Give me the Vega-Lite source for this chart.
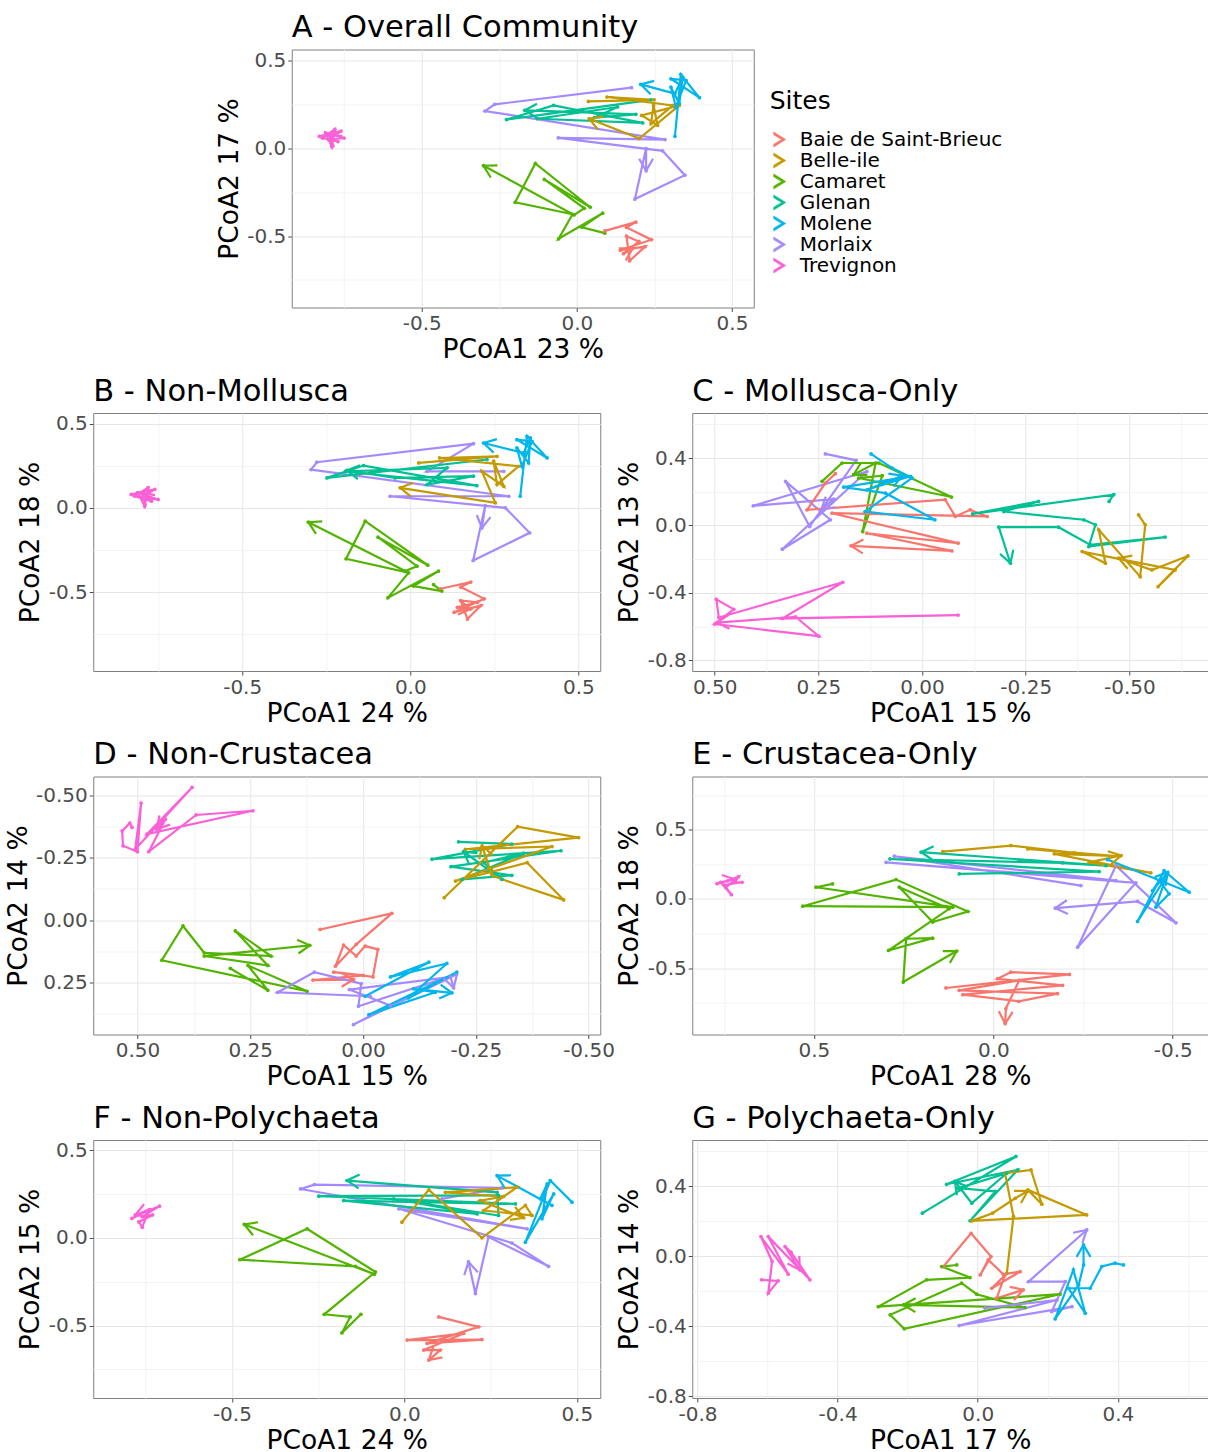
{
"$schema": "https://vega.github.io/schema/vega-lite/v6.json",
"padding": {"left": 4, "top": 12.5, "right": 0, "bottom": 0},
"datasets": {"pts": [
{"p":"A","s":"Trevignon","i":0,"x":-0.83,"y":0.07},{"p":"A","s":"Trevignon","i":1,"x":-0.76,"y":0.10},{"p":"A","s":"Trevignon","i":2,"x":-0.80,"y":0.05},{"p":"A","s":"Trevignon","i":3,"x":-0.75,"y":0.06},{"p":"A","s":"Trevignon","i":4,"x":-0.81,"y":0.09},{"p":"A","s":"Trevignon","i":5,"x":-0.79,"y":0.01},{"p":"A","s":"Trevignon","i":6,"x":-0.78,"y":0.11},{"p":"A","s":"Trevignon","i":7,"x":-0.82,"y":0.06},{"p":"A","s":"Trevignon","i":8,"x":-0.77,"y":0.04},{"p":"A","s":"Trevignon","i":9,"x":-0.80,"y":0.08},
{"p":"A","s":"Camaret","i":0,"x":0.090,"y":-0.483},{"p":"A","s":"Camaret","i":1,"x":0.016,"y":-0.449},{"p":"A","s":"Camaret","i":2,"x":0.083,"y":-0.369},{"p":"A","s":"Camaret","i":3,"x":-0.059,"y":-0.515},{"p":"A","s":"Camaret","i":4,"x":-0.014,"y":-0.375},{"p":"A","s":"Camaret","i":5,"x":-0.199,"y":-0.307},{"p":"A","s":"Camaret","i":6,"x":-0.134,"y":-0.085},{"p":"A","s":"Camaret","i":7,"x":0.043,"y":-0.335},{"p":"A","s":"Camaret","i":8,"x":-0.105,"y":-0.176},{"p":"A","s":"Camaret","i":9,"x":0.024,"y":-0.341},{"p":"A","s":"Camaret","i":10,"x":-0.009,"y":-0.379},{"p":"A","s":"Camaret","i":11,"x":-0.301,"y":-0.098},
{"p":"A","s":"Baie de Saint-Brieuc","i":0,"x":0.09,"y":-0.47},{"p":"A","s":"Baie de Saint-Brieuc","i":1,"x":0.19,"y":-0.42},{"p":"A","s":"Baie de Saint-Brieuc","i":2,"x":0.16,"y":-0.45},{"p":"A","s":"Baie de Saint-Brieuc","i":3,"x":0.24,"y":-0.52},{"p":"A","s":"Baie de Saint-Brieuc","i":4,"x":0.14,"y":-0.58},{"p":"A","s":"Baie de Saint-Brieuc","i":5,"x":0.22,"y":-0.56},{"p":"A","s":"Baie de Saint-Brieuc","i":6,"x":0.17,"y":-0.64},{"p":"A","s":"Baie de Saint-Brieuc","i":7,"x":0.16,"y":-0.50},{"p":"A","s":"Baie de Saint-Brieuc","i":8,"x":0.20,"y":-0.53},{"p":"A","s":"Baie de Saint-Brieuc","i":9,"x":0.15,"y":-0.60},{"p":"A","s":"Baie de Saint-Brieuc","i":10,"x":0.18,"y":-0.57},
{"p":"A","s":"Morlaix","i":0,"x":0.176,"y":0.347},{"p":"A","s":"Morlaix","i":1,"x":-0.265,"y":0.252},{"p":"A","s":"Morlaix","i":2,"x":-0.296,"y":0.214},{"p":"A","s":"Morlaix","i":3,"x":0.284,"y":0.051},{"p":"A","s":"Morlaix","i":4,"x":-0.060,"y":0.061},{"p":"A","s":"Morlaix","i":5,"x":0.276,"y":-0.013},{"p":"A","s":"Morlaix","i":6,"x":0.348,"y":-0.152},{"p":"A","s":"Morlaix","i":7,"x":0.187,"y":-0.288},{"p":"A","s":"Morlaix","i":8,"x":0.223,"y":0.0},{"p":"A","s":"Morlaix","i":9,"x":0.223,"y":-0.127},
{"p":"A","s":"Glenan","i":0,"x":0.239,"y":0.278},{"p":"A","s":"Glenan","i":1,"x":-0.227,"y":0.165},{"p":"A","s":"Glenan","i":2,"x":-0.075,"y":0.246},{"p":"A","s":"Glenan","i":3,"x":0.212,"y":0.146},{"p":"A","s":"Glenan","i":4,"x":-0.127,"y":0.170},{"p":"A","s":"Glenan","i":5,"x":0.131,"y":0.237},{"p":"A","s":"Glenan","i":6,"x":0.056,"y":0.176},{"p":"A","s":"Glenan","i":7,"x":0.190,"y":0.195},{"p":"A","s":"Glenan","i":8,"x":0.002,"y":0.208},{"p":"A","s":"Glenan","i":9,"x":-0.168,"y":0.218},
{"p":"A","s":"Belle-ile","i":0,"x":0.037,"y":0.269},{"p":"A","s":"Belle-ile","i":1,"x":0.249,"y":0.278},{"p":"A","s":"Belle-ile","i":2,"x":0.097,"y":0.294},{"p":"A","s":"Belle-ile","i":3,"x":0.309,"y":0.246},{"p":"A","s":"Belle-ile","i":4,"x":0.239,"y":0.142},{"p":"A","s":"Belle-ile","i":5,"x":0.247,"y":0.246},{"p":"A","s":"Belle-ile","i":6,"x":0.260,"y":0.133},{"p":"A","s":"Belle-ile","i":7,"x":0.209,"y":0.189},{"p":"A","s":"Belle-ile","i":8,"x":0.330,"y":0.246},{"p":"A","s":"Belle-ile","i":9,"x":0.201,"y":0.057},{"p":"A","s":"Belle-ile","i":10,"x":0.040,"y":0.170},
{"p":"A","s":"Molene","i":0,"x":0.316,"y":0.070},{"p":"A","s":"Molene","i":1,"x":0.335,"y":0.422},{"p":"A","s":"Molene","i":2,"x":0.395,"y":0.290},{"p":"A","s":"Molene","i":3,"x":0.303,"y":0.398},{"p":"A","s":"Molene","i":4,"x":0.352,"y":0.388},{"p":"A","s":"Molene","i":5,"x":0.319,"y":0.237},{"p":"A","s":"Molene","i":6,"x":0.303,"y":0.350},{"p":"A","s":"Molene","i":7,"x":0.330,"y":0.256},{"p":"A","s":"Molene","i":8,"x":0.341,"y":0.407},{"p":"A","s":"Molene","i":9,"x":0.316,"y":0.313},{"p":"A","s":"Molene","i":10,"x":0.206,"y":0.366},
{"p":"B","s":"Trevignon","i":0,"x":-0.83,"y":0.08},{"p":"B","s":"Trevignon","i":1,"x":-0.76,"y":0.11},{"p":"B","s":"Trevignon","i":2,"x":-0.80,"y":0.06},{"p":"B","s":"Trevignon","i":3,"x":-0.75,"y":0.05},{"p":"B","s":"Trevignon","i":4,"x":-0.81,"y":0.09},{"p":"B","s":"Trevignon","i":5,"x":-0.79,"y":0.01},{"p":"B","s":"Trevignon","i":6,"x":-0.78,"y":0.12},{"p":"B","s":"Trevignon","i":7,"x":-0.82,"y":0.07},{"p":"B","s":"Trevignon","i":8,"x":-0.77,"y":0.04},{"p":"B","s":"Trevignon","i":9,"x":-0.80,"y":0.09},
{"p":"B","s":"Camaret","i":0,"x":0.069,"y":-0.455},{"p":"B","s":"Camaret","i":1,"x":0.094,"y":-0.494},{"p":"B","s":"Camaret","i":2,"x":0.010,"y":-0.464},{"p":"B","s":"Camaret","i":3,"x":0.084,"y":-0.375},{"p":"B","s":"Camaret","i":4,"x":-0.067,"y":-0.534},{"p":"B","s":"Camaret","i":5,"x":-0.005,"y":-0.385},{"p":"B","s":"Camaret","i":6,"x":-0.191,"y":-0.302},{"p":"B","s":"Camaret","i":7,"x":-0.134,"y":-0.079},{"p":"B","s":"Camaret","i":8,"x":0.052,"y":-0.340},{"p":"B","s":"Camaret","i":9,"x":-0.096,"y":-0.174},{"p":"B","s":"Camaret","i":10,"x":0.020,"y":-0.346},{"p":"B","s":"Camaret","i":11,"x":-0.015,"y":-0.375},{"p":"B","s":"Camaret","i":12,"x":-0.303,"y":-0.085},
{"p":"B","s":"Baie de Saint-Brieuc","i":0,"x":0.09,"y":-0.48},{"p":"B","s":"Baie de Saint-Brieuc","i":1,"x":0.18,"y":-0.44},{"p":"B","s":"Baie de Saint-Brieuc","i":2,"x":0.15,"y":-0.47},{"p":"B","s":"Baie de Saint-Brieuc","i":3,"x":0.22,"y":-0.54},{"p":"B","s":"Baie de Saint-Brieuc","i":4,"x":0.13,"y":-0.62},{"p":"B","s":"Baie de Saint-Brieuc","i":5,"x":0.21,"y":-0.58},{"p":"B","s":"Baie de Saint-Brieuc","i":6,"x":0.17,"y":-0.66},{"p":"B","s":"Baie de Saint-Brieuc","i":7,"x":0.15,"y":-0.55},{"p":"B","s":"Baie de Saint-Brieuc","i":8,"x":0.20,"y":-0.56},{"p":"B","s":"Baie de Saint-Brieuc","i":9,"x":0.14,"y":-0.59},{"p":"B","s":"Baie de Saint-Brieuc","i":10,"x":0.18,"y":-0.60},
{"p":"B","s":"Morlaix","i":0,"x":0.278,"y":0.217},{"p":"B","s":"Morlaix","i":1,"x":0.050,"y":0.217},{"p":"B","s":"Morlaix","i":2,"x":0.188,"y":0.381},{"p":"B","s":"Morlaix","i":3,"x":-0.278,"y":0.271},{"p":"B","s":"Morlaix","i":4,"x":-0.295,"y":0.227},{"p":"B","s":"Morlaix","i":5,"x":0.293,"y":0.069},{"p":"B","s":"Morlaix","i":6,"x":-0.060,"y":0.069},{"p":"B","s":"Morlaix","i":7,"x":0.283,"y":0.0},{"p":"B","s":"Morlaix","i":8,"x":0.355,"y":-0.148},{"p":"B","s":"Morlaix","i":9,"x":0.187,"y":-0.312},{"p":"B","s":"Morlaix","i":10,"x":0.223,"y":0.014},{"p":"B","s":"Morlaix","i":11,"x":0.213,"y":-0.119},
{"p":"B","s":"Glenan","i":0,"x":0.228,"y":0.287},{"p":"B","s":"Glenan","i":1,"x":-0.248,"y":0.178},{"p":"B","s":"Glenan","i":2,"x":-0.139,"y":0.251},{"p":"B","s":"Glenan","i":3,"x":0.198,"y":0.132},{"p":"B","s":"Glenan","i":4,"x":-0.193,"y":0.217},{"p":"B","s":"Glenan","i":5,"x":0.109,"y":0.237},{"p":"B","s":"Glenan","i":6,"x":0.050,"y":0.138},{"p":"B","s":"Glenan","i":7,"x":0.188,"y":0.188},{"p":"B","s":"Glenan","i":8,"x":-0.045,"y":0.178},{"p":"B","s":"Glenan","i":9,"x":-0.188,"y":0.223},
{"p":"B","s":"Belle-ile","i":0,"x":0.025,"y":0.267},{"p":"B","s":"Belle-ile","i":1,"x":0.258,"y":0.306},{"p":"B","s":"Belle-ile","i":2,"x":0.087,"y":0.296},{"p":"B","s":"Belle-ile","i":3,"x":0.322,"y":0.247},{"p":"B","s":"Belle-ile","i":4,"x":0.258,"y":0.138},{"p":"B","s":"Belle-ile","i":5,"x":0.248,"y":0.277},{"p":"B","s":"Belle-ile","i":6,"x":0.278,"y":0.128},{"p":"B","s":"Belle-ile","i":7,"x":0.213,"y":0.217},{"p":"B","s":"Belle-ile","i":8,"x":0.253,"y":0.030},{"p":"B","s":"Belle-ile","i":9,"x":-0.030,"y":0.119},
{"p":"B","s":"Molene","i":0,"x":0.327,"y":0.069},{"p":"B","s":"Molene","i":1,"x":0.347,"y":0.425},{"p":"B","s":"Molene","i":2,"x":0.407,"y":0.296},{"p":"B","s":"Molene","i":3,"x":0.317,"y":0.405},{"p":"B","s":"Molene","i":4,"x":0.362,"y":0.395},{"p":"B","s":"Molene","i":5,"x":0.332,"y":0.247},{"p":"B","s":"Molene","i":6,"x":0.317,"y":0.356},{"p":"B","s":"Molene","i":7,"x":0.352,"y":0.267},{"p":"B","s":"Molene","i":8,"x":0.357,"y":0.415},{"p":"B","s":"Molene","i":9,"x":0.337,"y":0.326},{"p":"B","s":"Molene","i":10,"x":0.218,"y":0.385},
{"p":"C","s":"Trevignon","i":0,"x":-0.087,"y":-0.532},{"p":"C","s":"Trevignon","i":1,"x":0.337,"y":-0.552},{"p":"C","s":"Trevignon","i":2,"x":0.191,"y":-0.337},{"p":"C","s":"Trevignon","i":3,"x":0.490,"y":-0.546},{"p":"C","s":"Trevignon","i":4,"x":0.496,"y":-0.438},{"p":"C","s":"Trevignon","i":5,"x":0.454,"y":-0.498},{"p":"C","s":"Trevignon","i":6,"x":0.500,"y":-0.585},{"p":"C","s":"Trevignon","i":7,"x":0.249,"y":-0.657},{"p":"C","s":"Trevignon","i":8,"x":0.305,"y":-0.542},{"p":"C","s":"Trevignon","i":9,"x":0.494,"y":-0.577},
{"p":"C","s":"Morlaix","i":0,"x":0.233,"y":0.425},{"p":"C","s":"Morlaix","i":1,"x":0.159,"y":0.387},{"p":"C","s":"Morlaix","i":2,"x":0.271,"y":-0.006},{"p":"C","s":"Morlaix","i":3,"x":0.329,"y":0.262},{"p":"C","s":"Morlaix","i":4,"x":0.221,"y":0.034},{"p":"C","s":"Morlaix","i":5,"x":0.337,"y":-0.141},{"p":"C","s":"Morlaix","i":6,"x":0.133,"y":0.321},{"p":"C","s":"Morlaix","i":7,"x":0.407,"y":0.117},{"p":"C","s":"Morlaix","i":8,"x":0.213,"y":0.157},{"p":"C","s":"Morlaix","i":9,"x":0.243,"y":0.093},
{"p":"C","s":"Camaret","i":0,"x":0.241,"y":0.262},{"p":"C","s":"Camaret","i":1,"x":0.193,"y":0.371},{"p":"C","s":"Camaret","i":2,"x":0.104,"y":0.371},{"p":"C","s":"Camaret","i":3,"x":-0.071,"y":0.169},{"p":"C","s":"Camaret","i":4,"x":0.153,"y":0.282},{"p":"C","s":"Camaret","i":5,"x":0.096,"y":0.296},{"p":"C","s":"Camaret","i":6,"x":0.143,"y":-0.036},{"p":"C","s":"Camaret","i":7,"x":0.112,"y":0.371},{"p":"C","s":"Camaret","i":8,"x":0.165,"y":0.302},
{"p":"C","s":"Baie de Saint-Brieuc","i":0,"x":0.209,"y":0.308},{"p":"C","s":"Baie de Saint-Brieuc","i":1,"x":0.233,"y":0.252},{"p":"C","s":"Baie de Saint-Brieuc","i":2,"x":0.277,"y":0.093},{"p":"C","s":"Baie de Saint-Brieuc","i":3,"x":-0.056,"y":0.153},{"p":"C","s":"Baie de Saint-Brieuc","i":4,"x":-0.080,"y":0.054},{"p":"C","s":"Baie de Saint-Brieuc","i":5,"x":-0.116,"y":0.093},{"p":"C","s":"Baie de Saint-Brieuc","i":6,"x":-0.157,"y":0.054},{"p":"C","s":"Baie de Saint-Brieuc","i":7,"x":0.217,"y":0.073},{"p":"C","s":"Baie de Saint-Brieuc","i":8,"x":-0.087,"y":-0.105},{"p":"C","s":"Baie de Saint-Brieuc","i":9,"x":0.133,"y":-0.046},{"p":"C","s":"Baie de Saint-Brieuc","i":10,"x":-0.072,"y":-0.151},{"p":"C","s":"Baie de Saint-Brieuc","i":11,"x":0.171,"y":-0.121},
{"p":"C","s":"Molene","i":0,"x":0.123,"y":0.425},{"p":"C","s":"Molene","i":1,"x":0.072,"y":0.341},{"p":"C","s":"Molene","i":2,"x":0.024,"y":0.282},{"p":"C","s":"Molene","i":3,"x":0.137,"y":0.083},{"p":"C","s":"Molene","i":4,"x":-0.031,"y":0.034},{"p":"C","s":"Molene","i":5,"x":0.088,"y":0.192},{"p":"C","s":"Molene","i":6,"x":0.189,"y":0.228},{"p":"C","s":"Molene","i":7,"x":0.028,"y":0.292},{"p":"C","s":"Molene","i":8,"x":0.133,"y":0.212},{"p":"C","s":"Molene","i":9,"x":0.048,"y":0.296},
{"p":"C","s":"Glenan","i":0,"x":-0.451,"y":0.143},{"p":"C","s":"Glenan","i":1,"x":-0.462,"y":0.183},{"p":"C","s":"Glenan","i":2,"x":-0.122,"y":0.069},{"p":"C","s":"Glenan","i":3,"x":-0.281,"y":0.143},{"p":"C","s":"Glenan","i":4,"x":-0.197,"y":0.083},{"p":"C","s":"Glenan","i":5,"x":-0.390,"y":0.034},{"p":"C","s":"Glenan","i":6,"x":-0.418,"y":0.004},{"p":"C","s":"Glenan","i":7,"x":-0.402,"y":-0.125},{"p":"C","s":"Glenan","i":8,"x":-0.586,"y":-0.069},{"p":"C","s":"Glenan","i":9,"x":-0.406,"y":-0.115},{"p":"C","s":"Glenan","i":10,"x":-0.329,"y":-0.010},{"p":"C","s":"Glenan","i":11,"x":-0.185,"y":-0.010},{"p":"C","s":"Glenan","i":12,"x":-0.213,"y":-0.224},
{"p":"C","s":"Belle-ile","i":0,"x":-0.522,"y":0.063},{"p":"C","s":"Belle-ile","i":1,"x":-0.538,"y":0.004},{"p":"C","s":"Belle-ile","i":2,"x":-0.526,"y":-0.304},{"p":"C","s":"Belle-ile","i":3,"x":-0.426,"y":-0.026},{"p":"C","s":"Belle-ile","i":4,"x":-0.442,"y":-0.224},{"p":"C","s":"Belle-ile","i":5,"x":-0.386,"y":-0.155},{"p":"C","s":"Belle-ile","i":6,"x":-0.610,"y":-0.264},{"p":"C","s":"Belle-ile","i":7,"x":-0.569,"y":-0.363},{"p":"C","s":"Belle-ile","i":8,"x":-0.641,"y":-0.181},{"p":"C","s":"Belle-ile","i":9,"x":-0.554,"y":-0.264},{"p":"C","s":"Belle-ile","i":10,"x":-0.474,"y":-0.194},
{"p":"D","s":"Trevignon","i":0,"x":0.512,"y":-0.373},{"p":"D","s":"Trevignon","i":1,"x":0.517,"y":-0.390},{"p":"D","s":"Trevignon","i":2,"x":0.534,"y":-0.359},{"p":"D","s":"Trevignon","i":3,"x":0.532,"y":-0.299},{"p":"D","s":"Trevignon","i":4,"x":0.500,"y":-0.275},{"p":"D","s":"Trevignon","i":5,"x":0.492,"y":-0.471},{"p":"D","s":"Trevignon","i":6,"x":0.505,"y":-0.285},{"p":"D","s":"Trevignon","i":7,"x":0.379,"y":-0.534},{"p":"D","s":"Trevignon","i":8,"x":0.479,"y":-0.346},{"p":"D","s":"Trevignon","i":9,"x":0.244,"y":-0.440},{"p":"D","s":"Trevignon","i":10,"x":0.370,"y":-0.423},{"p":"D","s":"Trevignon","i":11,"x":0.475,"y":-0.275},{"p":"D","s":"Trevignon","i":12,"x":0.438,"y":-0.406},{"p":"D","s":"Trevignon","i":13,"x":0.457,"y":-0.366},
{"p":"D","s":"Camaret","i":0,"x":0.294,"y":0.195},{"p":"D","s":"Camaret","i":1,"x":0.211,"y":0.283},{"p":"D","s":"Camaret","i":2,"x":0.255,"y":0.183},{"p":"D","s":"Camaret","i":3,"x":0.124,"y":0.287},{"p":"D","s":"Camaret","i":4,"x":0.446,"y":0.162},{"p":"D","s":"Camaret","i":5,"x":0.399,"y":0.024},{"p":"D","s":"Camaret","i":6,"x":0.352,"y":0.132},{"p":"D","s":"Camaret","i":7,"x":0.204,"y":0.145},{"p":"D","s":"Camaret","i":8,"x":0.283,"y":0.044},{"p":"D","s":"Camaret","i":9,"x":0.211,"y":0.183},{"p":"D","s":"Camaret","i":10,"x":0.352,"y":0.145},{"p":"D","s":"Camaret","i":11,"x":0.118,"y":0.102},
{"p":"D","s":"Baie de Saint-Brieuc","i":0,"x":0.095,"y":0.038},{"p":"D","s":"Baie de Saint-Brieuc","i":1,"x":-0.064,"y":-0.027},{"p":"D","s":"Baie de Saint-Brieuc","i":2,"x":0.015,"y":0.098},{"p":"D","s":"Baie de Saint-Brieuc","i":3,"x":0.061,"y":0.186},{"p":"D","s":"Baie de Saint-Brieuc","i":4,"x":0.043,"y":0.101},{"p":"D","s":"Baie de Saint-Brieuc","i":5,"x":0.015,"y":0.145},{"p":"D","s":"Baie de Saint-Brieuc","i":6,"x":-0.005,"y":0.105},{"p":"D","s":"Baie de Saint-Brieuc","i":7,"x":-0.033,"y":0.118},{"p":"D","s":"Baie de Saint-Brieuc","i":8,"x":-0.022,"y":0.229},{"p":"D","s":"Baie de Saint-Brieuc","i":9,"x":0.065,"y":0.210},{"p":"D","s":"Baie de Saint-Brieuc","i":10,"x":-0.001,"y":0.223},{"p":"D","s":"Baie de Saint-Brieuc","i":11,"x":0.111,"y":0.242},{"p":"D","s":"Baie de Saint-Brieuc","i":12,"x":0.021,"y":0.240},
{"p":"D","s":"Morlaix","i":0,"x":-0.016,"y":0.307},{"p":"D","s":"Morlaix","i":1,"x":0.189,"y":0.291},{"p":"D","s":"Morlaix","i":2,"x":0.108,"y":0.210},{"p":"D","s":"Morlaix","i":3,"x":0.004,"y":0.256},{"p":"D","s":"Morlaix","i":4,"x":0.010,"y":0.347},{"p":"D","s":"Morlaix","i":5,"x":-0.207,"y":0.219},{"p":"D","s":"Morlaix","i":6,"x":0.021,"y":0.421},{"p":"D","s":"Morlaix","i":7,"x":-0.061,"y":0.345},{"p":"D","s":"Morlaix","i":8,"x":0.030,"y":0.280},{"p":"D","s":"Morlaix","i":9,"x":-0.194,"y":0.229},{"p":"D","s":"Morlaix","i":10,"x":-0.201,"y":0.273},
{"p":"D","s":"Molene","i":0,"x":-0.005,"y":0.307},{"p":"D","s":"Molene","i":1,"x":-0.146,"y":0.170},{"p":"D","s":"Molene","i":2,"x":-0.061,"y":0.229},{"p":"D","s":"Molene","i":3,"x":-0.186,"y":0.175},{"p":"D","s":"Molene","i":4,"x":-0.101,"y":0.314},{"p":"D","s":"Molene","i":5,"x":-0.208,"y":0.210},{"p":"D","s":"Molene","i":6,"x":-0.013,"y":0.381},{"p":"D","s":"Molene","i":7,"x":-0.160,"y":0.291},{"p":"D","s":"Molene","i":8,"x":-0.112,"y":0.277},{"p":"D","s":"Molene","i":9,"x":-0.197,"y":0.293},
{"p":"D","s":"Glenan","i":0,"x":-0.212,"y":-0.315},{"p":"D","s":"Glenan","i":1,"x":-0.330,"y":-0.306},{"p":"D","s":"Glenan","i":2,"x":-0.153,"y":-0.245},{"p":"D","s":"Glenan","i":3,"x":-0.439,"y":-0.279},{"p":"D","s":"Glenan","i":4,"x":-0.195,"y":-0.215},{"p":"D","s":"Glenan","i":5,"x":-0.330,"y":-0.180},{"p":"D","s":"Glenan","i":6,"x":-0.220,"y":-0.164},{"p":"D","s":"Glenan","i":7,"x":-0.356,"y":-0.269},{"p":"D","s":"Glenan","i":8,"x":-0.268,"y":-0.231},{"p":"D","s":"Glenan","i":9,"x":-0.308,"y":-0.164},{"p":"D","s":"Glenan","i":10,"x":-0.223,"y":-0.275},
{"p":"D","s":"Belle-ile","i":0,"x":-0.180,"y":-0.090},{"p":"D","s":"Belle-ile","i":1,"x":-0.343,"y":-0.376},{"p":"D","s":"Belle-ile","i":2,"x":-0.478,"y":-0.332},{"p":"D","s":"Belle-ile","i":3,"x":-0.227,"y":-0.285},{"p":"D","s":"Belle-ile","i":4,"x":-0.419,"y":-0.296},{"p":"D","s":"Belle-ile","i":5,"x":-0.205,"y":-0.157},{"p":"D","s":"Belle-ile","i":6,"x":-0.364,"y":-0.231},{"p":"D","s":"Belle-ile","i":7,"x":-0.445,"y":-0.081},{"p":"D","s":"Belle-ile","i":8,"x":-0.308,"y":-0.164},{"p":"D","s":"Belle-ile","i":9,"x":-0.286,"y":-0.180},{"p":"D","s":"Belle-ile","i":10,"x":-0.264,"y":-0.299},
{"p":"E","s":"Trevignon","i":0,"x":0.77,"y":0.11},{"p":"E","s":"Trevignon","i":1,"x":0.74,"y":0.13},{"p":"E","s":"Trevignon","i":2,"x":0.71,"y":0.16},{"p":"E","s":"Trevignon","i":3,"x":0.72,"y":0.12},{"p":"E","s":"Trevignon","i":4,"x":0.70,"y":0.12},{"p":"E","s":"Trevignon","i":5,"x":0.75,"y":0.10},{"p":"E","s":"Trevignon","i":6,"x":0.73,"y":0.03},{"p":"E","s":"Trevignon","i":7,"x":0.76,"y":0.12},{"p":"E","s":"Trevignon","i":8,"x":0.72,"y":0.14},
{"p":"E","s":"Camaret","i":0,"x":0.448,"y":0.108},{"p":"E","s":"Camaret","i":1,"x":0.494,"y":0.084},{"p":"E","s":"Camaret","i":2,"x":0.113,"y":-0.060},{"p":"E","s":"Camaret","i":3,"x":0.531,"y":-0.053},{"p":"E","s":"Camaret","i":4,"x":0.271,"y":0.139},{"p":"E","s":"Camaret","i":5,"x":0.071,"y":-0.091},{"p":"E","s":"Camaret","i":6,"x":0.169,"y":-0.168},{"p":"E","s":"Camaret","i":7,"x":0.262,"y":0.084},{"p":"E","s":"Camaret","i":8,"x":0.123,"y":-0.072},{"p":"E","s":"Camaret","i":9,"x":0.292,"y":-0.373},{"p":"E","s":"Camaret","i":10,"x":0.169,"y":-0.284},{"p":"E","s":"Camaret","i":11,"x":0.243,"y":-0.288},{"p":"E","s":"Camaret","i":12,"x":0.251,"y":-0.601},{"p":"E","s":"Camaret","i":13,"x":0.102,"y":-0.377},
{"p":"E","s":"Baie de Saint-Brieuc","i":0,"x":0.132,"y":-0.644},{"p":"E","s":"Baie de Saint-Brieuc","i":1,"x":-0.212,"y":-0.546},{"p":"E","s":"Baie de Saint-Brieuc","i":2,"x":-0.049,"y":-0.529},{"p":"E","s":"Baie de Saint-Brieuc","i":3,"x":-0.012,"y":-0.577},{"p":"E","s":"Baie de Saint-Brieuc","i":4,"x":-0.193,"y":-0.625},{"p":"E","s":"Baie de Saint-Brieuc","i":5,"x":0.085,"y":-0.692},{"p":"E","s":"Baie de Saint-Brieuc","i":6,"x":-0.071,"y":-0.740},{"p":"E","s":"Baie de Saint-Brieuc","i":7,"x":-0.179,"y":-0.685},{"p":"E","s":"Baie de Saint-Brieuc","i":8,"x":0.095,"y":-0.661},{"p":"E","s":"Baie de Saint-Brieuc","i":9,"x":-0.072,"y":-0.589},{"p":"E","s":"Baie de Saint-Brieuc","i":10,"x":-0.035,"y":-0.793},{"p":"E","s":"Baie de Saint-Brieuc","i":11,"x":-0.033,"y":-0.901},
{"p":"E","s":"Morlaix","i":0,"x":-0.244,"y":0.096},{"p":"E","s":"Morlaix","i":1,"x":0.276,"y":0.308},{"p":"E","s":"Morlaix","i":2,"x":-0.342,"y":0.132},{"p":"E","s":"Morlaix","i":3,"x":0.299,"y":0.264},{"p":"E","s":"Morlaix","i":4,"x":-0.397,"y":0.115},{"p":"E","s":"Morlaix","i":5,"x":-0.235,"y":-0.349},{"p":"E","s":"Morlaix","i":6,"x":-0.342,"y":0.240},{"p":"E","s":"Morlaix","i":7,"x":-0.509,"y":-0.173},{"p":"E","s":"Morlaix","i":8,"x":-0.402,"y":-0.019},{"p":"E","s":"Morlaix","i":9,"x":-0.173,"y":-0.067},
{"p":"E","s":"Glenan","i":0,"x":0.095,"y":0.180},{"p":"E","s":"Glenan","i":1,"x":-0.295,"y":0.197},{"p":"E","s":"Glenan","i":2,"x":0.288,"y":0.288},{"p":"E","s":"Glenan","i":3,"x":-0.193,"y":0.260},{"p":"E","s":"Glenan","i":4,"x":-0.072,"y":0.276},{"p":"E","s":"Glenan","i":5,"x":-0.314,"y":0.240},{"p":"E","s":"Glenan","i":6,"x":0.201,"y":0.337},
{"p":"E","s":"Belle-ile","i":0,"x":0.141,"y":0.341},{"p":"E","s":"Belle-ile","i":1,"x":-0.049,"y":0.385},{"p":"E","s":"Belle-ile","i":2,"x":-0.226,"y":0.332},{"p":"E","s":"Belle-ile","i":3,"x":-0.096,"y":0.361},{"p":"E","s":"Belle-ile","i":4,"x":-0.351,"y":0.308},{"p":"E","s":"Belle-ile","i":5,"x":-0.170,"y":0.325},{"p":"E","s":"Belle-ile","i":6,"x":-0.439,"y":0.188},{"p":"E","s":"Belle-ile","i":7,"x":-0.267,"y":0.264},{"p":"E","s":"Belle-ile","i":8,"x":-0.356,"y":0.313},
{"p":"E","s":"Molene","i":0,"x":-0.318,"y":0.284},{"p":"E","s":"Molene","i":1,"x":-0.546,"y":0.048},{"p":"E","s":"Molene","i":2,"x":-0.476,"y":0.204},{"p":"E","s":"Molene","i":3,"x":-0.402,"y":-0.163},{"p":"E","s":"Molene","i":4,"x":-0.481,"y":0.156},{"p":"E","s":"Molene","i":5,"x":-0.453,"y":-0.060},{"p":"E","s":"Molene","i":6,"x":-0.490,"y":0.036},{"p":"E","s":"Molene","i":7,"x":-0.462,"y":0.132},{"p":"E","s":"Molene","i":8,"x":-0.444,"y":0.060},{"p":"E","s":"Molene","i":9,"x":-0.486,"y":0.192},
{"p":"F","s":"Trevignon","i":0,"x":-0.79,"y":0.11},{"p":"F","s":"Trevignon","i":1,"x":-0.75,"y":0.15},{"p":"F","s":"Trevignon","i":2,"x":-0.71,"y":0.18},{"p":"F","s":"Trevignon","i":3,"x":-0.76,"y":0.12},{"p":"F","s":"Trevignon","i":4,"x":-0.73,"y":0.13},{"p":"F","s":"Trevignon","i":5,"x":-0.77,"y":0.09},{"p":"F","s":"Trevignon","i":6,"x":-0.76,"y":0.06},{"p":"F","s":"Trevignon","i":7,"x":-0.74,"y":0.16},{"p":"F","s":"Trevignon","i":8,"x":-0.78,"y":0.13},
{"p":"F","s":"Camaret","i":0,"x":-0.126,"y":-0.436},{"p":"F","s":"Camaret","i":1,"x":-0.181,"y":-0.542},{"p":"F","s":"Camaret","i":2,"x":-0.157,"y":-0.451},{"p":"F","s":"Camaret","i":3,"x":-0.232,"y":-0.436},{"p":"F","s":"Camaret","i":4,"x":-0.084,"y":-0.195},{"p":"F","s":"Camaret","i":5,"x":-0.282,"y":0.051},{"p":"F","s":"Camaret","i":6,"x":-0.477,"y":-0.125},{"p":"F","s":"Camaret","i":7,"x":-0.142,"y":-0.163},{"p":"F","s":"Camaret","i":8,"x":-0.087,"y":-0.208},{"p":"F","s":"Camaret","i":9,"x":-0.464,"y":0.076},
{"p":"F","s":"Baie de Saint-Brieuc","i":0,"x":0.100,"y":-0.451},{"p":"F","s":"Baie de Saint-Brieuc","i":1,"x":0.215,"y":-0.508},{"p":"F","s":"Baie de Saint-Brieuc","i":2,"x":0.066,"y":-0.602},{"p":"F","s":"Baie de Saint-Brieuc","i":3,"x":0.225,"y":-0.580},{"p":"F","s":"Baie de Saint-Brieuc","i":4,"x":0.008,"y":-0.583},{"p":"F","s":"Baie de Saint-Brieuc","i":5,"x":0.172,"y":-0.545},{"p":"F","s":"Baie de Saint-Brieuc","i":6,"x":0.056,"y":-0.640},{"p":"F","s":"Baie de Saint-Brieuc","i":7,"x":0.104,"y":-0.640},{"p":"F","s":"Baie de Saint-Brieuc","i":8,"x":0.071,"y":-0.697},
{"p":"F","s":"Morlaix","i":0,"x":0.109,"y":0.222},{"p":"F","s":"Morlaix","i":1,"x":0.283,"y":0.284},{"p":"F","s":"Morlaix","i":2,"x":-0.261,"y":0.303},{"p":"F","s":"Morlaix","i":3,"x":-0.301,"y":0.278},{"p":"F","s":"Morlaix","i":4,"x":0.356,"y":0.051},{"p":"F","s":"Morlaix","i":5,"x":-0.016,"y":0.165},{"p":"F","s":"Morlaix","i":6,"x":0.312,"y":-0.030},{"p":"F","s":"Morlaix","i":7,"x":0.418,"y":-0.163},{"p":"F","s":"Morlaix","i":8,"x":0.244,"y":0.004},{"p":"F","s":"Morlaix","i":9,"x":0.206,"y":-0.318},{"p":"F","s":"Morlaix","i":10,"x":0.186,"y":-0.138},
{"p":"F","s":"Glenan","i":0,"x":0.273,"y":0.241},{"p":"F","s":"Glenan","i":1,"x":-0.248,"y":0.237},{"p":"F","s":"Glenan","i":2,"x":0.322,"y":0.193},{"p":"F","s":"Glenan","i":3,"x":-0.176,"y":0.212},{"p":"F","s":"Glenan","i":4,"x":0.211,"y":0.136},{"p":"F","s":"Glenan","i":5,"x":-0.031,"y":0.222},{"p":"F","s":"Glenan","i":6,"x":0.273,"y":0.127},{"p":"F","s":"Glenan","i":7,"x":0.269,"y":0.259},{"p":"F","s":"Glenan","i":8,"x":-0.166,"y":0.326},
{"p":"F","s":"Belle-ile","i":0,"x":-0.007,"y":0.089},{"p":"F","s":"Belle-ile","i":1,"x":0.071,"y":0.273},{"p":"F","s":"Belle-ile","i":2,"x":0.225,"y":0.0},{"p":"F","s":"Belle-ile","i":3,"x":0.351,"y":0.184},{"p":"F","s":"Belle-ile","i":4,"x":0.370,"y":0.127},{"p":"F","s":"Belle-ile","i":5,"x":0.230,"y":0.155},{"p":"F","s":"Belle-ile","i":6,"x":0.327,"y":0.288},{"p":"F","s":"Belle-ile","i":7,"x":0.119,"y":0.259},{"p":"F","s":"Belle-ile","i":8,"x":0.288,"y":0.235},{"p":"F","s":"Belle-ile","i":9,"x":0.220,"y":0.212},{"p":"F","s":"Belle-ile","i":10,"x":0.346,"y":0.114},
{"p":"F","s":"Molene","i":0,"x":0.486,"y":0.203},{"p":"F","s":"Molene","i":1,"x":0.423,"y":0.326},{"p":"F","s":"Molene","i":2,"x":0.351,"y":-0.025},{"p":"F","s":"Molene","i":3,"x":0.433,"y":0.250},{"p":"F","s":"Molene","i":4,"x":0.399,"y":0.108},{"p":"F","s":"Molene","i":5,"x":0.414,"y":0.307},{"p":"F","s":"Molene","i":6,"x":0.394,"y":0.222},{"p":"F","s":"Molene","i":7,"x":0.428,"y":0.184},{"p":"F","s":"Molene","i":8,"x":0.269,"y":0.354},
{"p":"G","s":"Trevignon","i":0,"x":-0.617,"y":-0.135},{"p":"G","s":"Trevignon","i":1,"x":-0.570,"y":-0.141},{"p":"G","s":"Trevignon","i":2,"x":-0.598,"y":-0.211},{"p":"G","s":"Trevignon","i":3,"x":-0.587,"y":-0.030},{"p":"G","s":"Trevignon","i":4,"x":-0.619,"y":0.112},{"p":"G","s":"Trevignon","i":5,"x":-0.541,"y":-0.103},{"p":"G","s":"Trevignon","i":6,"x":-0.598,"y":0.112},{"p":"G","s":"Trevignon","i":7,"x":-0.479,"y":-0.135},{"p":"G","s":"Trevignon","i":8,"x":-0.533,"y":0.023},{"p":"G","s":"Trevignon","i":9,"x":-0.550,"y":0.055},{"p":"G","s":"Trevignon","i":10,"x":-0.508,"y":-0.078},
{"p":"G","s":"Glenan","i":0,"x":-0.158,"y":0.246},{"p":"G","s":"Glenan","i":1,"x":0.109,"y":0.570},{"p":"G","s":"Glenan","i":2,"x":-0.089,"y":0.411},{"p":"G","s":"Glenan","i":3,"x":0.114,"y":0.493},{"p":"G","s":"Glenan","i":4,"x":-0.022,"y":0.202},{"p":"G","s":"Glenan","i":5,"x":0.050,"y":0.370},{"p":"G","s":"Glenan","i":6,"x":-0.055,"y":0.389},{"p":"G","s":"Glenan","i":7,"x":0.083,"y":0.474},{"p":"G","s":"Glenan","i":8,"x":-0.017,"y":0.303},{"p":"G","s":"Glenan","i":9,"x":-0.065,"y":0.427},
{"p":"G","s":"Belle-ile","i":0,"x":0.083,"y":-0.097},{"p":"G","s":"Belle-ile","i":1,"x":0.102,"y":0.227},{"p":"G","s":"Belle-ile","i":2,"x":0.078,"y":0.474},{"p":"G","s":"Belle-ile","i":3,"x":0.152,"y":0.493},{"p":"G","s":"Belle-ile","i":4,"x":0.183,"y":0.297},{"p":"G","s":"Belle-ile","i":5,"x":0.143,"y":0.379},{"p":"G","s":"Belle-ile","i":6,"x":0.311,"y":0.236},{"p":"G","s":"Belle-ile","i":7,"x":-0.017,"y":0.202},{"p":"G","s":"Belle-ile","i":8,"x":0.042,"y":0.246},{"p":"G","s":"Belle-ile","i":9,"x":0.107,"y":0.331},{"p":"G","s":"Belle-ile","i":10,"x":0.143,"y":0.373},
{"p":"G","s":"Baie de Saint-Brieuc","i":0,"x":-0.098,"y":-0.059},{"p":"G","s":"Baie de Saint-Brieuc","i":1,"x":-0.019,"y":0.131},{"p":"G","s":"Baie de Saint-Brieuc","i":2,"x":0.038,"y":-0.002},{"p":"G","s":"Baie de Saint-Brieuc","i":3,"x":0.007,"y":-0.107},{"p":"G","s":"Baie de Saint-Brieuc","i":4,"x":0.030,"y":-0.021},{"p":"G","s":"Baie de Saint-Brieuc","i":5,"x":0.073,"y":-0.103},{"p":"G","s":"Baie de Saint-Brieuc","i":6,"x":0.121,"y":-0.088},{"p":"G","s":"Baie de Saint-Brieuc","i":7,"x":0.040,"y":-0.183},{"p":"G","s":"Baie de Saint-Brieuc","i":8,"x":0.078,"y":-0.107},{"p":"G","s":"Baie de Saint-Brieuc","i":9,"x":0.054,"y":-0.240},{"p":"G","s":"Baie de Saint-Brieuc","i":10,"x":0.130,"y":-0.192},
{"p":"G","s":"Camaret","i":0,"x":-0.060,"y":-0.050},{"p":"G","s":"Camaret","i":1,"x":-0.103,"y":-0.059},{"p":"G","s":"Camaret","i":2,"x":-0.022,"y":-0.122},{"p":"G","s":"Camaret","i":3,"x":-0.146,"y":-0.135},{"p":"G","s":"Camaret","i":4,"x":-0.284,"y":-0.288},{"p":"G","s":"Camaret","i":5,"x":0.235,"y":-0.217},{"p":"G","s":"Camaret","i":6,"x":-0.210,"y":-0.415},{"p":"G","s":"Camaret","i":7,"x":-0.250,"y":-0.335},{"p":"G","s":"Camaret","i":8,"x":-0.046,"y":-0.154},{"p":"G","s":"Camaret","i":9,"x":-0.003,"y":-0.217},{"p":"G","s":"Camaret","i":10,"x":0.135,"y":-0.293},{"p":"G","s":"Camaret","i":11,"x":-0.212,"y":-0.278},
{"p":"G","s":"Morlaix","i":0,"x":0.021,"y":-0.297},{"p":"G","s":"Morlaix","i":1,"x":0.226,"y":-0.250},{"p":"G","s":"Morlaix","i":2,"x":-0.053,"y":-0.396},{"p":"G","s":"Morlaix","i":3,"x":0.269,"y":-0.288},{"p":"G","s":"Morlaix","i":4,"x":0.211,"y":-0.316},{"p":"G","s":"Morlaix","i":5,"x":0.250,"y":-0.145},{"p":"G","s":"Morlaix","i":6,"x":0.145,"y":-0.145},{"p":"G","s":"Morlaix","i":7,"x":0.311,"y":0.150},
{"p":"G","s":"Molene","i":0,"x":0.416,"y":-0.050},{"p":"G","s":"Molene","i":1,"x":0.392,"y":-0.040},{"p":"G","s":"Molene","i":2,"x":0.354,"y":-0.059},{"p":"G","s":"Molene","i":3,"x":0.321,"y":-0.183},{"p":"G","s":"Molene","i":4,"x":0.259,"y":-0.183},{"p":"G","s":"Molene","i":5,"x":0.307,"y":-0.326},{"p":"G","s":"Molene","i":6,"x":0.273,"y":-0.078},{"p":"G","s":"Molene","i":7,"x":0.221,"y":-0.358},{"p":"G","s":"Molene","i":8,"x":0.288,"y":-0.164},{"p":"G","s":"Molene","i":9,"x":0.302,"y":-0.050},{"p":"G","s":"Molene","i":10,"x":0.302,"y":0.065}
]},
"data": {"name": "pts"},
"center": true,
"spacing": 12.5,
"resolve": {"legend": {"color": "independent"}},
"vconcat": [
{
 "width": 462, "height": 258,
 "title": "A - Overall Community",
 "transform": [{"filter": "datum.p === 'A'"}],
 "encoding": {
  "x": {"field": "x", "type": "quantitative", "scale": {"domain": [-0.919, 0.570], "nice": false, "zero": false},
   "axis": {"title": "PCoA1 23 %", "values": [-0.75,-0.5,-0.25,0,0.25,0.5],
    "labelExpr": "indexof([-0.5,0,0.5], datum.value) >= 0 ? replace(format(datum.value, '.1f'), '\u2212', '-') : ''",
    "gridColor": {"condition": {"test": "indexof([-0.5,0,0.5], datum.value) >= 0", "value": "#e6e6e6"}, "value": "#f3f3f3"},
    "tickOpacity": {"condition": {"test": "indexof([-0.5,0,0.5], datum.value) >= 0", "value": 1}, "value": 0}}},
  "y": {"field": "y", "type": "quantitative", "scale": {"domain": [-0.907, 0.565], "nice": false, "zero": false},
   "axis": {"title": "PCoA2 17 %", "values": [-0.75,-0.5,-0.25,0,0.25,0.5],
    "labelExpr": "indexof([-0.5,0,0.5], datum.value) >= 0 ? replace(format(datum.value, '.1f'), '\u2212', '-') : ''",
    "gridColor": {"condition": {"test": "indexof([-0.5,0,0.5], datum.value) >= 0", "value": "#e6e6e6"}, "value": "#f3f3f3"},
    "tickOpacity": {"condition": {"test": "indexof([-0.5,0,0.5], datum.value) >= 0", "value": 1}, "value": 0}}},
  "color": {"field": "s", "type": "nominal",
   "scale": {"domain": ["Baie de Saint-Brieuc","Belle-ile","Camaret","Glenan","Molene","Morlaix","Trevignon"], "range": ["#F8766D","#C49A00","#53B400","#00C094","#00B6EB","#A58AFF","#FB61D7"]},
   "legend": {"title": "Sites", "orient": "none", "legendX": 471, "legendY": 32, "padding": 7, "symbolType": "M-0.8,-1L0.8,0L-0.8,1L-0.8,0.62L0.25,0L-0.8,-0.62Z", "symbolSize": 225, "symbolStrokeWidth": 0.6, "labelLimit": 400}}
 },
 "layer": [
  {"mark": {"type": "line", "strokeWidth": 2.2}, "encoding": {"order": {"field": "i", "type": "quantitative"}}},
  {"mark": {"type": "circle", "size": 14, "opacity": 1}, "encoding": {"color": {"field": "s", "type": "nominal", "legend": null}}},
  {"transform": [
    {"window": [{"op": "lag", "field": "x", "as": "px"}, {"op": "lag", "field": "y", "as": "py"}], "sort": [{"field": "i", "order": "ascending"}], "groupby": ["s"]},
    {"joinaggregate": [{"op": "max", "field": "i", "as": "mi"}], "groupby": ["s"]},
    {"filter": "datum.i === datum.mi"},
    {"calculate": "atan2(-(datum.y - datum.py) * 175, (datum.x - datum.px) * 310) * 180 / PI", "as": "ang"}],
   "mark": {"type": "point", "shape": "M-1,-0.58L0,0L-1,0.58", "filled": false, "strokeWidth": 2.2, "size": 576, "opacity": 1},
   "encoding": {"angle": {"field": "ang", "type": "quantitative", "scale": null}, "color": {"field": "s", "type": "nominal", "legend": null}}}
 ]
},
{
 "columns": 2,
 "align": "each",
 "spacing": {"row": 12.5, "column": 0},
 "resolve": {"legend": {"color": "independent"}},
 "concat": [
 {
  "width": 507, "height": 258,
  "title": "B - Non-Mollusca",
  "transform": [{"filter": "datum.p === 'B'"}],
  "encoding": {
   "x": {"field": "x", "type": "quantitative", "scale": {"domain": [-0.943, 0.565], "nice": false, "zero": false},
    "axis": {"title": "PCoA1 24 %", "values": [-0.75,-0.5,-0.25,0,0.25,0.5],
     "labelExpr": "indexof([-0.5,0,0.5], datum.value) >= 0 ? replace(format(datum.value, '.1f'), '\u2212', '-') : ''",
     "gridColor": {"condition": {"test": "indexof([-0.5,0,0.5], datum.value) >= 0", "value": "#e6e6e6"}, "value": "#f3f3f3"},
     "tickOpacity": {"condition": {"test": "indexof([-0.5,0,0.5], datum.value) >= 0", "value": 1}, "value": 0}}},
   "y": {"field": "y", "type": "quantitative", "scale": {"domain": [-0.968, 0.563], "nice": false, "zero": false},
    "axis": {"title": "PCoA2 18 %", "values": [-0.75,-0.5,-0.25,0,0.25,0.5],
     "labelExpr": "indexof([-0.5,0,0.5], datum.value) >= 0 ? replace(format(datum.value, '.1f'), '\u2212', '-') : ''",
     "gridColor": {"condition": {"test": "indexof([-0.5,0,0.5], datum.value) >= 0", "value": "#e6e6e6"}, "value": "#f3f3f3"},
     "tickOpacity": {"condition": {"test": "indexof([-0.5,0,0.5], datum.value) >= 0", "value": 1}, "value": 0}}},
   "color": {"field": "s", "type": "nominal", "scale": {"domain": ["Baie de Saint-Brieuc","Belle-ile","Camaret","Glenan","Molene","Morlaix","Trevignon"], "range": ["#F8766D","#C49A00","#53B400","#00C094","#00B6EB","#A58AFF","#FB61D7"]}, "legend": null}
  },
  "layer": [
   {"mark": {"type": "line", "strokeWidth": 2.2, "point": {"filled": true, "size": 14}}, "encoding": {"order": {"field": "i", "type": "quantitative"}}},
   {"transform": [
     {"window": [{"op": "lag", "field": "x", "as": "px"}, {"op": "lag", "field": "y", "as": "py"}], "sort": [{"field": "i", "order": "ascending"}], "groupby": ["s"]},
     {"joinaggregate": [{"op": "max", "field": "i", "as": "mi"}], "groupby": ["s"]},
     {"filter": "datum.i === datum.mi"},
     {"calculate": "atan2(-(datum.y - datum.py) * 168.5, (datum.x - datum.px) * 336) * 180 / PI", "as": "ang"}],
    "mark": {"type": "point", "shape": "M-1,-0.58L0,0L-1,0.58", "filled": false, "strokeWidth": 2.2, "size": 576, "opacity": 1},
    "encoding": {"angle": {"field": "ang", "type": "quantitative", "scale": null}}}
  ]
 },
 {
  "width": 516, "height": 258,
  "title": "C - Mollusca-Only",
  "transform": [{"filter": "datum.p === 'C'"}],
  "encoding": {
   "x": {"field": "x", "type": "quantitative", "scale": {"domain": [-0.690, 0.554], "reverse": true, "nice": false, "zero": false},
    "axis": {"title": "PCoA1 15 %", "values": [-0.625,-0.5,-0.375,-0.25,-0.125,0,0.125,0.25,0.375,0.5],
     "labelExpr": "indexof([-0.5,-0.25,0,0.25,0.5], datum.value) >= 0 ? replace(format(datum.value, '.2f'), '\u2212', '-') : ''",
     "gridColor": {"condition": {"test": "indexof([-0.5,-0.25,0,0.25,0.5], datum.value) >= 0", "value": "#e6e6e6"}, "value": "#f3f3f3"},
     "tickOpacity": {"condition": {"test": "indexof([-0.5,-0.25,0,0.25,0.5], datum.value) >= 0", "value": 1}, "value": 0}}},
   "y": {"field": "y", "type": "quantitative", "scale": {"domain": [-0.864, 0.668], "nice": false, "zero": false},
    "axis": {"title": "PCoA2 13 %", "values": [-0.8,-0.6,-0.4,-0.2,0,0.2,0.4,0.6],
     "labelExpr": "indexof([-0.8,-0.4,0,0.4], datum.value) >= 0 ? replace(format(datum.value, '.1f'), '\u2212', '-') : ''",
     "gridColor": {"condition": {"test": "indexof([-0.8,-0.4,0,0.4], datum.value) >= 0", "value": "#e6e6e6"}, "value": "#f3f3f3"},
     "tickOpacity": {"condition": {"test": "indexof([-0.8,-0.4,0,0.4], datum.value) >= 0", "value": 1}, "value": 0}}},
   "color": {"field": "s", "type": "nominal", "scale": {"domain": ["Baie de Saint-Brieuc","Belle-ile","Camaret","Glenan","Molene","Morlaix","Trevignon"], "range": ["#F8766D","#C49A00","#53B400","#00C094","#00B6EB","#A58AFF","#FB61D7"]}, "legend": null}
  },
  "layer": [
   {"mark": {"type": "line", "strokeWidth": 2.2, "point": {"filled": true, "size": 14}}, "encoding": {"order": {"field": "i", "type": "quantitative"}}},
   {"transform": [
     {"window": [{"op": "lag", "field": "x", "as": "px"}, {"op": "lag", "field": "y", "as": "py"}], "sort": [{"field": "i", "order": "ascending"}], "groupby": ["s"]},
     {"joinaggregate": [{"op": "max", "field": "i", "as": "mi"}], "groupby": ["s"]},
     {"filter": "datum.i === datum.mi"},
     {"calculate": "atan2(-(datum.y - datum.py) * 168.4, (datum.x - datum.px) * -414.8) * 180 / PI", "as": "ang"}],
    "mark": {"type": "point", "shape": "M-1,-0.58L0,0L-1,0.58", "filled": false, "strokeWidth": 2.2, "size": 576, "opacity": 1},
    "encoding": {"angle": {"field": "ang", "type": "quantitative", "scale": null}}}
  ]
 },
 {
  "width": 507, "height": 258,
  "title": "D - Non-Crustacea",
  "transform": [{"filter": "datum.p === 'D'"}],
  "encoding": {
   "x": {"field": "x", "type": "quantitative", "scale": {"domain": [-0.526, 0.598], "reverse": true, "nice": false, "zero": false},
    "axis": {"title": "PCoA1 15 %", "values": [-0.5,-0.375,-0.25,-0.125,0,0.125,0.25,0.375,0.5],
     "labelExpr": "indexof([-0.5,-0.25,0,0.25,0.5], datum.value) >= 0 ? replace(format(datum.value, '.2f'), '\u2212', '-') : ''",
     "gridColor": {"condition": {"test": "indexof([-0.5,-0.25,0,0.25,0.5], datum.value) >= 0", "value": "#e6e6e6"}, "value": "#f3f3f3"},
     "tickOpacity": {"condition": {"test": "indexof([-0.5,-0.25,0,0.25,0.5], datum.value) >= 0", "value": 1}, "value": 0}}},
   "y": {"field": "y", "type": "quantitative", "scale": {"domain": [-0.578, 0.461], "reverse": true, "nice": false, "zero": false},
    "axis": {"title": "PCoA2 14 %", "values": [-0.5,-0.375,-0.25,-0.125,0,0.125,0.25,0.375],
     "labelExpr": "indexof([-0.5,-0.25,0,0.25], datum.value) >= 0 ? replace(format(datum.value, '.2f'), '\u2212', '-') : ''",
     "gridColor": {"condition": {"test": "indexof([-0.5,-0.25,0,0.25], datum.value) >= 0", "value": "#e6e6e6"}, "value": "#f3f3f3"},
     "tickOpacity": {"condition": {"test": "indexof([-0.5,-0.25,0,0.25], datum.value) >= 0", "value": 1}, "value": 0}}},
   "color": {"field": "s", "type": "nominal", "scale": {"domain": ["Baie de Saint-Brieuc","Belle-ile","Camaret","Glenan","Molene","Morlaix","Trevignon"], "range": ["#F8766D","#C49A00","#53B400","#00C094","#00B6EB","#A58AFF","#FB61D7"]}, "legend": null}
  },
  "layer": [
   {"mark": {"type": "line", "strokeWidth": 2.2, "point": {"filled": true, "size": 14}}, "encoding": {"order": {"field": "i", "type": "quantitative"}}},
   {"transform": [
     {"window": [{"op": "lag", "field": "x", "as": "px"}, {"op": "lag", "field": "y", "as": "py"}], "sort": [{"field": "i", "order": "ascending"}], "groupby": ["s"]},
     {"joinaggregate": [{"op": "max", "field": "i", "as": "mi"}], "groupby": ["s"]},
     {"filter": "datum.i === datum.mi"},
     {"calculate": "atan2(-(datum.y - datum.py) * -248, (datum.x - datum.px) * -451) * 180 / PI", "as": "ang"}],
    "mark": {"type": "point", "shape": "M-1,-0.58L0,0L-1,0.58", "filled": false, "strokeWidth": 2.2, "size": 576, "opacity": 1},
    "encoding": {"angle": {"field": "ang", "type": "quantitative", "scale": null}}}
  ]
 },
 {
  "width": 516, "height": 258,
  "title": "E - Crustacea-Only",
  "transform": [{"filter": "datum.p === 'E'"}],
  "encoding": {
   "x": {"field": "x", "type": "quantitative", "scale": {"domain": [-0.599, 0.839], "reverse": true, "nice": false, "zero": false},
    "axis": {"title": "PCoA1 28 %", "values": [-0.5,-0.25,0,0.25,0.5,0.75],
     "labelExpr": "indexof([-0.5,0,0.5], datum.value) >= 0 ? replace(format(datum.value, '.1f'), '\u2212', '-') : ''",
     "gridColor": {"condition": {"test": "indexof([-0.5,0,0.5], datum.value) >= 0", "value": "#e6e6e6"}, "value": "#f3f3f3"},
     "tickOpacity": {"condition": {"test": "indexof([-0.5,0,0.5], datum.value) >= 0", "value": 1}, "value": 0}}},
   "y": {"field": "y", "type": "quantitative", "scale": {"domain": [-0.980, 0.884], "nice": false, "zero": false},
    "axis": {"title": "PCoA2 18 %", "values": [-0.75,-0.5,-0.25,0,0.25,0.5,0.75],
     "labelExpr": "indexof([-0.5,0,0.5], datum.value) >= 0 ? replace(format(datum.value, '.1f'), '\u2212', '-') : ''",
     "gridColor": {"condition": {"test": "indexof([-0.5,0,0.5], datum.value) >= 0", "value": "#e6e6e6"}, "value": "#f3f3f3"},
     "tickOpacity": {"condition": {"test": "indexof([-0.5,0,0.5], datum.value) >= 0", "value": 1}, "value": 0}}},
   "color": {"field": "s", "type": "nominal", "scale": {"domain": ["Baie de Saint-Brieuc","Belle-ile","Camaret","Glenan","Molene","Morlaix","Trevignon"], "range": ["#F8766D","#C49A00","#53B400","#00C094","#00B6EB","#A58AFF","#FB61D7"]}, "legend": null}
  },
  "layer": [
   {"mark": {"type": "line", "strokeWidth": 2.2, "point": {"filled": true, "size": 14}}, "encoding": {"order": {"field": "i", "type": "quantitative"}}},
   {"transform": [
     {"window": [{"op": "lag", "field": "x", "as": "px"}, {"op": "lag", "field": "y", "as": "py"}], "sort": [{"field": "i", "order": "ascending"}], "groupby": ["s"]},
     {"joinaggregate": [{"op": "max", "field": "i", "as": "mi"}], "groupby": ["s"]},
     {"filter": "datum.i === datum.mi"},
     {"calculate": "atan2(-(datum.y - datum.py) * 138.4, (datum.x - datum.px) * -358.8) * 180 / PI", "as": "ang"}],
    "mark": {"type": "point", "shape": "M-1,-0.58L0,0L-1,0.58", "filled": false, "strokeWidth": 2.2, "size": 576, "opacity": 1},
    "encoding": {"angle": {"field": "ang", "type": "quantitative", "scale": null}}}
  ]
 },
 {
  "width": 507, "height": 258,
  "title": "F - Non-Polychaeta",
  "transform": [{"filter": "datum.p === 'F'"}],
  "encoding": {
   "x": {"field": "x", "type": "quantitative", "scale": {"domain": [-0.902, 0.568], "nice": false, "zero": false},
    "axis": {"title": "PCoA1 24 %", "values": [-0.75,-0.5,-0.25,0,0.25,0.5],
     "labelExpr": "indexof([-0.5,0,0.5], datum.value) >= 0 ? replace(format(datum.value, '.1f'), '\u2212', '-') : ''",
     "gridColor": {"condition": {"test": "indexof([-0.5,0,0.5], datum.value) >= 0", "value": "#e6e6e6"}, "value": "#f3f3f3"},
     "tickOpacity": {"condition": {"test": "indexof([-0.5,0,0.5], datum.value) >= 0", "value": 1}, "value": 0}}},
   "y": {"field": "y", "type": "quantitative", "scale": {"domain": [-0.913, 0.557], "nice": false, "zero": false},
    "axis": {"title": "PCoA2 15 %", "values": [-0.75,-0.5,-0.25,0,0.25,0.5],
     "labelExpr": "indexof([-0.5,0,0.5], datum.value) >= 0 ? replace(format(datum.value, '.1f'), '\u2212', '-') : ''",
     "gridColor": {"condition": {"test": "indexof([-0.5,0,0.5], datum.value) >= 0", "value": "#e6e6e6"}, "value": "#f3f3f3"},
     "tickOpacity": {"condition": {"test": "indexof([-0.5,0,0.5], datum.value) >= 0", "value": 1}, "value": 0}}},
   "color": {"field": "s", "type": "nominal", "scale": {"domain": ["Baie de Saint-Brieuc","Belle-ile","Camaret","Glenan","Molene","Morlaix","Trevignon"], "range": ["#F8766D","#C49A00","#53B400","#00C094","#00B6EB","#A58AFF","#FB61D7"]}, "legend": null}
  },
  "layer": [
   {"mark": {"type": "line", "strokeWidth": 2.2, "point": {"filled": true, "size": 14}}, "encoding": {"order": {"field": "i", "type": "quantitative"}}},
   {"transform": [
     {"window": [{"op": "lag", "field": "x", "as": "px"}, {"op": "lag", "field": "y", "as": "py"}], "sort": [{"field": "i", "order": "ascending"}], "groupby": ["s"]},
     {"joinaggregate": [{"op": "max", "field": "i", "as": "mi"}], "groupby": ["s"]},
     {"filter": "datum.i === datum.mi"},
     {"calculate": "atan2(-(datum.y - datum.py) * 175.5, (datum.x - datum.px) * 345) * 180 / PI", "as": "ang"}],
    "mark": {"type": "point", "shape": "M-1,-0.58L0,0L-1,0.58", "filled": false, "strokeWidth": 2.2, "size": 576, "opacity": 1},
    "encoding": {"angle": {"field": "ang", "type": "quantitative", "scale": null}}}
  ]
 },
 {
  "width": 516, "height": 258,
  "title": "G - Polychaeta-Only",
  "transform": [{"filter": "datum.p === 'G'"}],
  "encoding": {
   "x": {"field": "x", "type": "quantitative", "scale": {"domain": [-0.815, 0.658], "nice": false, "zero": false},
    "axis": {"title": "PCoA1 17 %", "values": [-0.8,-0.6,-0.4,-0.2,0,0.2,0.4,0.6],
     "labelExpr": "indexof([-0.8,-0.4,0,0.4], datum.value) >= 0 ? replace(format(datum.value, '.1f'), '\u2212', '-') : ''",
     "gridColor": {"condition": {"test": "indexof([-0.8,-0.4,0,0.4], datum.value) >= 0", "value": "#e6e6e6"}, "value": "#f3f3f3"},
     "tickOpacity": {"condition": {"test": "indexof([-0.8,-0.4,0,0.4], datum.value) >= 0", "value": 1}, "value": 0}}},
   "y": {"field": "y", "type": "quantitative", "scale": {"domain": [-0.81, 0.664], "nice": false, "zero": false},
    "axis": {"title": "PCoA2 14 %", "values": [-0.8,-0.6,-0.4,-0.2,0,0.2,0.4,0.6],
     "labelExpr": "indexof([-0.8,-0.4,0,0.4], datum.value) >= 0 ? replace(format(datum.value, '.1f'), '\u2212', '-') : ''",
     "gridColor": {"condition": {"test": "indexof([-0.8,-0.4,0,0.4], datum.value) >= 0", "value": "#e6e6e6"}, "value": "#f3f3f3"},
     "tickOpacity": {"condition": {"test": "indexof([-0.8,-0.4,0,0.4], datum.value) >= 0", "value": 1}, "value": 0}}},
   "color": {"field": "s", "type": "nominal", "scale": {"domain": ["Baie de Saint-Brieuc","Belle-ile","Camaret","Glenan","Molene","Morlaix","Trevignon"], "range": ["#F8766D","#C49A00","#53B400","#00C094","#00B6EB","#A58AFF","#FB61D7"]}, "legend": null}
  },
  "layer": [
   {"mark": {"type": "line", "strokeWidth": 2.2, "point": {"filled": true, "size": 14}}, "encoding": {"order": {"field": "i", "type": "quantitative"}}},
   {"transform": [
     {"window": [{"op": "lag", "field": "x", "as": "px"}, {"op": "lag", "field": "y", "as": "py"}], "sort": [{"field": "i", "order": "ascending"}], "groupby": ["s"]},
     {"joinaggregate": [{"op": "max", "field": "i", "as": "mi"}], "groupby": ["s"]},
     {"filter": "datum.i === datum.mi"},
     {"calculate": "atan2(-(datum.y - datum.py) * 175, (datum.x - datum.px) * 350) * 180 / PI", "as": "ang"}],
    "mark": {"type": "point", "shape": "M-1,-0.58L0,0L-1,0.58", "filled": false, "strokeWidth": 2.2, "size": 576, "opacity": 1},
    "encoding": {"angle": {"field": "ang", "type": "quantitative", "scale": null}}}
  ]
 }
 ]
}
],
"config": {
 "font": "DejaVu Sans",
 "background": "white",
 "view": {"stroke": "#808080", "strokeWidth": 1},
 "axis": {"labelFontSize": 20, "labelColor": "#4d4d4d", "titleFontSize": 26.5, "titleFontWeight": "normal", "titleColor": "#000000", "tickColor": "#4d4d4d", "tickSize": 4, "tickWidth": 1, "domain": false, "labelPadding": 2, "titlePadding": 3, "gridWidth": 1, "labelOverlap": false, "labelFlush": false},
 "axisY": {"titlePadding": 3.5},
 "title": {"fontSize": 30.5, "fontWeight": "normal", "anchor": "start", "frame": "group", "color": "#000000", "offset": 6},
 "legend": {"titleFontSize": 25, "titleFontWeight": "normal", "titleColor": "#000000", "labelFontSize": 20, "labelColor": "#000000", "rowPadding": 1, "titlePadding": 16, "labelOffset": 10}
}
}
